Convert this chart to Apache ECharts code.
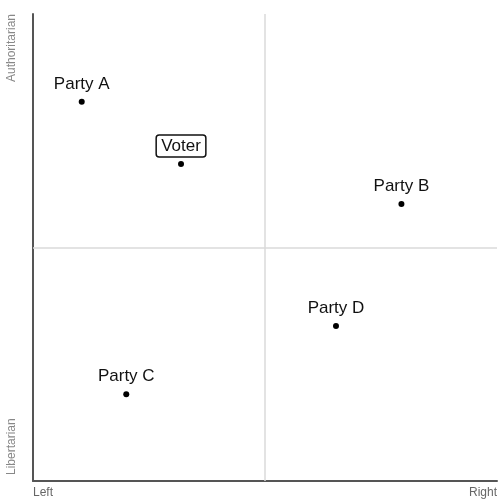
<!DOCTYPE html>
<html>
<head>
<meta charset="utf-8">
<script src="https://cdn.jsdelivr.net/npm/echarts@6/dist/echarts.min.js"></script>
<style>
  html, body { margin: 0; padding: 0; background: #fff; }
  #chart { width: 500px; height: 502px; }
</style>
</head>
<body>
<div id="chart"></div>
<script>
// positions on the political compass (0..10 each way)
const names = ['Party A', 'Voter', 'Party B', 'Party D', 'Party C'];
const xValues = [1.05, 3.19, 7.94, 6.53, 2.01];
const yValues = [8.12, 6.79, 5.93, 3.32, 1.86];
const xEnds = ['Left', 'Right'];
const yEnds = ['Libertarian', 'Authoritarian'];

const chart = echarts.init(document.getElementById('chart'));

const points = names.map((n, i) => {
    const p = { name: n, value: [xValues[i], yValues[i]] };
    if (n === 'Voter') {
        // voter gets a boxed label
        p.label = {
            borderColor: '#111',
            borderWidth: 1.5,
            borderRadius: 3,
            padding: [3, 5, 2, 5],
            distance: 4
        };
    }
    return p;
});

chart.setOption({
    animation: false,
    grid: { left: 33, right: 0, top: 14, bottom: 21, containLabel: false },
    xAxis: {
        type: 'value',
        min: 0,
        max: 10,
        interval: 10,
        axisLine: { show: true, lineStyle: { color: '#555', width: 2 } },
        axisTick: { show: false },
        splitLine: { show: false },
        axisLabel: {
            color: '#666',
            fontSize: 12,
            fontFamily: 'Liberation Sans',
            margin: 6,
            alignMinLabel: 'left',
            alignMaxLabel: 'right',
            formatter: v => (v === 0 ? xEnds[0] : xEnds[1])
        }
    },
    yAxis: {
        type: 'value',
        min: 0,
        max: 10,
        interval: 10,
        axisLine: { show: true, onZero: false, lineStyle: { color: '#555', width: 2 } },
        axisTick: { show: false },
        splitLine: { show: false },
        axisLabel: { show: false }
    },
    graphic: [
        {
            type: 'text', left: 6, top: 14, rotation: Math.PI / 2,
            style: { text: yEnds[1], fill: '#888', font: '12px "Liberation Sans"' }
        },
        {
            type: 'text', left: 6, bottom: 27, rotation: Math.PI / 2,
            style: { text: yEnds[0], fill: '#888', font: '12px "Liberation Sans"' }
        }
    ],
    series: [{
        type: 'scatter',
        symbolSize: 6,
        itemStyle: { color: '#000', opacity: 1 },
        label: {
            show: true,
            position: 'top',
            distance: 6,
            formatter: '{b}',
            color: '#111',
            fontSize: 17,
            fontFamily: 'Liberation Sans'
        },
        data: points,
        markLine: {
            silent: true,
            symbol: 'none',
            label: { show: false },
            lineStyle: { color: '#dadada', width: 1.5, type: 'solid' },
            data: [{ xAxis: 5 }, { yAxis: 5 }]
        }
    }]
});
</script>
</body>
</html>
